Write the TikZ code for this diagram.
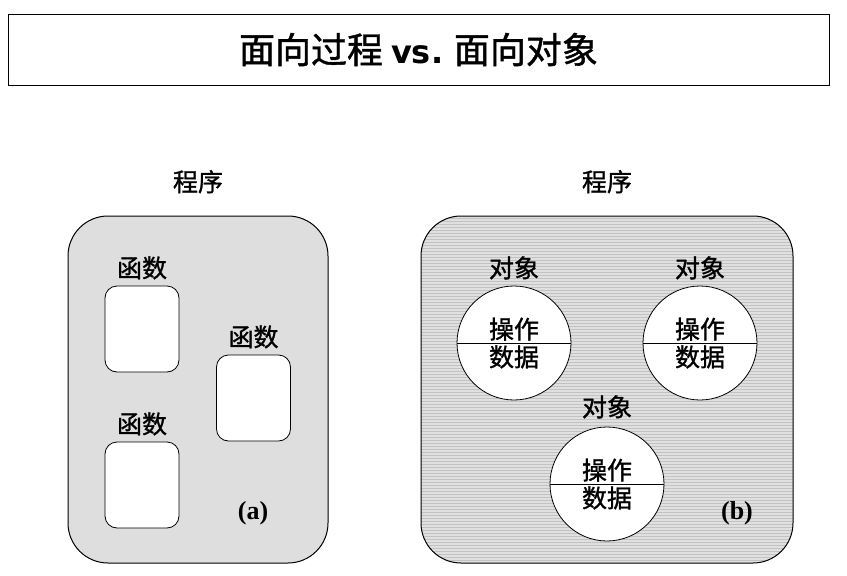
\documentclass[tikz,border=0pt]{standalone}
\usepackage{fontspec}
\setmainfont{Liberation Serif}
\newfontfamily\cjk[FakeBold=1.2]{Noto Sans CJK SC}
\newfontfamily\vsfont{DejaVu Sans}
\usetikzlibrary{positioning,shapes.multipart,patterns}
\tikzset{
  lbl/.style={inner sep=0pt,font=\cjk\fontsize{25}{30}\selectfont},
  prog/.style={draw,line width=1pt,rounded corners=40pt,minimum width=#1,minimum height=347pt},
  func/.style={draw,fill=white,line width=0.8pt,rounded corners=12pt,minimum width=74pt,minimum height=86pt},
  obj/.style={circle split,draw,fill=white,line width=0.8pt,minimum size=114pt,inner sep=2pt,font=\cjk\fontsize{25}{30}\selectfont},
  tag/.style={inner sep=0pt,font=\bfseries\fontsize{26}{30}\selectfont}
}
\begin{document}
\begin{tikzpicture}[x=1pt,y=-1pt,node distance=6pt]
   \useasboundingbox (0,0) rectangle (847,576);
   \node[draw,line width=0.8pt,minimum width=821pt,minimum height=71pt,font=\cjk\fontsize{36}{40}\selectfont] (title) at (418.5,49.5) {面向过程 {\vsfont\bfseries\fontsize{32}{36}\selectfont vs.} 面向对象};
   % (a) procedures
   \node[prog=260pt,fill=black!13] (a) at (198,389.5) {};
   \node[lbl,above=22pt of a] (p_a) {程序};
   \node[func] (f_1) at (142,329) {};
   \node[func] (f_2) at (253.5,398) {};
   \node[func] (f_3) at (142,485) {};
   \node[lbl,above=of f_1] (l_1) {函数};
   \node[lbl,above=of f_2] (l_2) {函数};
   \node[lbl,above=of f_3] (l_3) {函数};
   \node[tag] (t_a) at (253,513) {(a)};
   % (b) objects
   \node[prog=372pt,preaction={fill=black!12},pattern=horizontal lines,pattern color=black!24] (b) at (607,389.5) {};
   \node[lbl,above=22pt of b] (p_b) {程序};
   \node[obj] (o_1) at (514,343) {操作 \nodepart{lower} 数据};
   \node[obj] (o_2) at (700,343) {操作 \nodepart{lower} 数据};
   \node[obj] (o_3) at (607,484) {操作 \nodepart{lower} 数据};
   \node[lbl,above=of o_1] (m_1) {对象};
   \node[lbl,above=of o_2] (m_2) {对象};
   \node[lbl,above=8pt of o_3] (m_3) {对象};
   \node[tag] (t_b) at (737,513) {(b)};
\end{tikzpicture}
\end{document}
